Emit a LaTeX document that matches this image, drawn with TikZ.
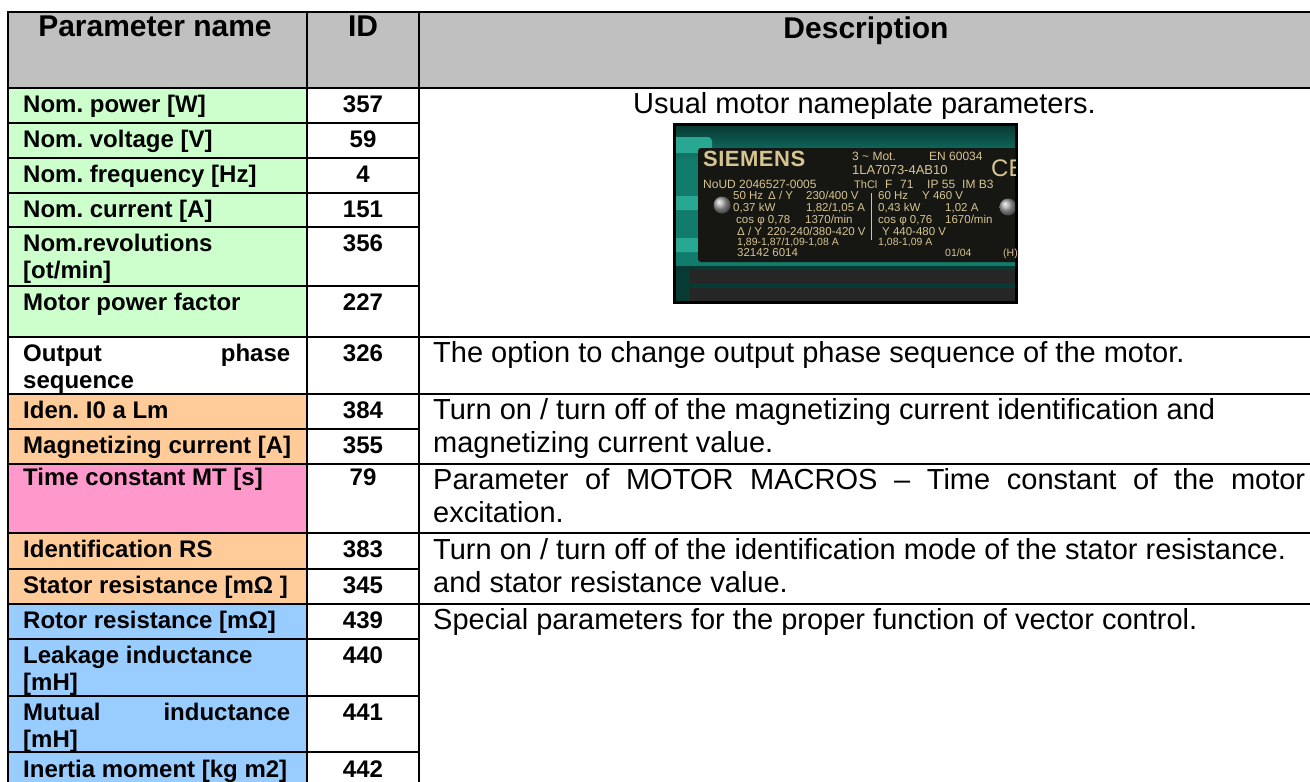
\documentclass[tikz,border=0pt]{standalone}
\usepackage{fontspec}
\setmainfont{Liberation Sans}
\frenchspacing
\definecolor{hdrgray}{HTML}{C0C0C0}
\definecolor{cgreen}{HTML}{CCFFCC}
\definecolor{corange}{HTML}{FFCC99}
\definecolor{cpink}{HTML}{FF99CC}
\definecolor{cblue}{HTML}{99CCFF}
\definecolor{teal1}{RGB}{18,124,108}
\definecolor{tealdk}{RGB}{8,58,52}
\definecolor{teallt}{RGB}{40,168,146}
\definecolor{plate}{RGB}{22,22,18}
\definecolor{gold}{RGB}{214,196,146}
\tikzset{
  gridline/.style={line width=2.2pt},
  lcell/.style={anchor=base west, inner sep=0pt, font=\fontsize{24}{27}\selectfont\bfseries},
  idcell/.style={anchor=base, inner sep=0pt, font=\fontsize{24}{27}\selectfont\bfseries},
  hcell/.style={anchor=base, inner sep=0pt, font=\fontsize{30}{33}\selectfont\bfseries},
  dcell/.style={anchor=base west, inner sep=0pt, font=\fontsize{29}{33}\selectfont},
  ptxt/.style={anchor=base west, inner sep=0pt, text=gold, font=\fontsize{11.5}{12}\selectfont},
}
\begin{document}
\begin{tikzpicture}[x=1pt,y=-1pt]
\useasboundingbox (0,0) rectangle (1310,782);
\clip (0,0) rectangle (1310,782);
% fills
\fill[hdrgray] (8,12) rectangle (1320,88);
\fill[cgreen] (8,88) rectangle (307,337);
\fill[white] (8,337) rectangle (307,394);
\fill[corange] (8,394) rectangle (307,464);
\fill[cpink] (8,464) rectangle (307,533);
\fill[corange] (8,533) rectangle (307,604);
\fill[cblue] (8,604) rectangle (307,790);
% grid
\draw[gridline] (8,12) -- (1320,12);
\draw[gridline] (8,88) -- (1320,88);
\draw[gridline] (8,11) -- (8,790);
\draw[gridline] (307,11) -- (307,790);
\draw[gridline] (419,11) -- (419,790);
\foreach \yy in {123,158,193,227,286,337,394,429,464,533,569,604,639,696,752}
  \draw[gridline] (8,\yy) -- (419,\yy);
\foreach \yy in {337,394,464,533,604}
  \draw[gridline] (419,\yy) -- (1320,\yy);
% header
\node[hcell] (h1) at (155,36) {Parameter name};
\node[hcell] (h2) at (363,36) {ID};
\node[hcell] (h3) at (866,38) {Description};
% left column
\node[lcell] (n1) at (23,112) {Nom. power [W]};
\node[lcell] (n2) at (23,147) {Nom. voltage [V]};
\node[lcell] (n3) at (23,182) {Nom. frequency [Hz]};
\node[lcell] (n4) at (23,217) {Nom. current [A]};
\node[lcell] (n5a) at (23,251) {Nom.revolutions};
\node[lcell] (n5b) at (23,278) {[ot/min]};
\node[lcell] (n6) at (23,310) {Motor power factor};
\node[lcell] (n7a) at (23,361) {\makebox[267pt][s]{Output phase}};
\node[lcell] (n7b) at (23,388) {sequence};
\node[lcell] (n8) at (23,418) {Iden. I0 a Lm};
\node[lcell] (n9) at (23,453) {Magnetizing current [A]};
\node[lcell] (n10) at (23,485) {Time constant MT [s]};
\node[lcell] (n11) at (23,557) {Identification RS};
\node[lcell] (n12) at (23,593) {Stator resistance [mΩ ]};
\node[lcell] (n13) at (23,628) {Rotor resistance [mΩ]};
\node[lcell] (n14a) at (23,663) {Leakage inductance};
\node[lcell] (n14b) at (23,690) {[mH]};
\node[lcell] (n15a) at (23,720) {\makebox[267pt][s]{Mutual inductance}};
\node[lcell] (n15b) at (23,747) {[mH]};
\node[lcell] (n16) at (23,777) {Inertia moment [kg m2]};
% ID column
\node[idcell] (i1) at (363,112) {357};
\node[idcell] (i2) at (363,147) {59};
\node[idcell] (i3) at (363,182) {4};
\node[idcell] (i4) at (363,217) {151};
\node[idcell] (i5) at (363,251) {356};
\node[idcell] (i6) at (363,310) {227};
\node[idcell] (i7) at (363,361) {326};
\node[idcell] (i8) at (363,418) {384};
\node[idcell] (i9) at (363,453) {355};
\node[idcell] (i10) at (363,485) {79};
\node[idcell] (i11) at (363,557) {383};
\node[idcell] (i12) at (363,593) {345};
\node[idcell] (i13) at (363,628) {439};
\node[idcell] (i14) at (363,663) {440};
\node[idcell] (i15) at (363,720) {441};
\node[idcell] (i16) at (363,777) {442};
% description column
\node[dcell, anchor=base] (d0) at (864.5,113) {Usual motor nameplate parameters.};
\node[dcell] (d1) at (433,362) {The option to change output phase sequence of the motor.};
\node[dcell] (d2a) at (433,419) {Turn on / turn off of the magnetizing current identification and};
\node[dcell] (d2b) at (433,452) {magnetizing current value.};
\node[dcell] (d3a) at (433,489) {\makebox[872pt][s]{Parameter of MOTOR MACROS – Time constant of the motor}};
\node[dcell] (d3b) at (433,522) {excitation.};
\node[dcell] (d4a) at (433,559) {Turn on / turn off of the identification mode of the stator resistance.};
\node[dcell] (d4b) at (433,592) {and stator resistance value.};
\node[dcell] (d5) at (433,629) {Special parameters for the proper function of vector control.};
% nameplate photo
\fill[black] (673,123) rectangle (1018,304);
\begin{scope}
\clip (676,126) rectangle (1015,301);
\shade[top color=tealdk, bottom color=teal1] (676,126) rectangle (1015,160);
\fill[teal1] (676,160) rectangle (1015,301);
\fill[teallt, rounded corners=4pt] (670,137) rectangle (712,153);
\fill[teallt, rounded corners=4pt] (670,196) rectangle (712,210);
\fill[teallt, rounded corners=4pt] (670,238) rectangle (712,252);
\fill[plate, rounded corners=3pt] (698,148) rectangle (1030,262);
\fill[tealdk] (676,266) rectangle (1015,301);
\fill[black!85] (690,270) rectangle (1015,283);
\fill[black!85] (690,288) rectangle (1015,301);
\shade[ball color=gray!70] (722,205) circle (8.5);
\shade[ball color=gray!70] (1008,207) circle (8.5);
\node[anchor=base west, inner sep=0pt, text=gold, font=\fontsize{24}{24}\selectfont] (pce) at (991,176) {CE};
\end{scope}
\node[ptxt, font=\fontsize{22}{22}\selectfont\bfseries] (p1) at (703,166) {S\kern0.5pt I\kern0.5pt E\kern0.5pt M\kern0.5pt E\kern0.5pt N\kern0.5pt S};
\node[ptxt, font=\fontsize{12}{12}\selectfont] (p2) at (852,160) {3 \textasciitilde{} Mot.};
\node[ptxt, font=\fontsize{12}{12}\selectfont] (p3) at (929,160) {EN 60034};
\node[ptxt, font=\fontsize{13}{13}\selectfont] (p4) at (852,174) {1LA7073-4AB10};
\node[ptxt, font=\fontsize{12}{12}\selectfont] (p5) at (703,188) {NoUD 2046527-0005};
\node[ptxt, font=\fontsize{11}{12}\selectfont] (p6) at (854,188) {ThCl};
\node[ptxt, font=\fontsize{12}{12}\selectfont] (p7) at (885,188) {F};
\node[ptxt, font=\fontsize{12}{12}\selectfont] (p8) at (900,188) {71};
\node[ptxt, font=\fontsize{12}{12}\selectfont] (p9) at (927,188) {IP 55};
\node[ptxt, font=\fontsize{12}{12}\selectfont] (p10) at (962,188) {IM B3};
\node[ptxt] (p11) at (733,199) {50 Hz};
\node[ptxt] (p12) at (768,199) {Δ / Y};
\node[ptxt] (p13) at (806,199) {230/400 V};
\node[ptxt] (p14) at (733,211) {0,37 kW};
\node[ptxt] (p15) at (806,211) {1,82/1,05 A};
\node[ptxt] (p16) at (736,223) {cos φ 0,78};
\node[ptxt] (p17) at (805,223) {1370/min};
\node[ptxt] (p18) at (737,235) {Δ / Y};
\node[ptxt] (p19) at (767,235) {220-240/380-420 V};
\node[ptxt, font=\fontsize{10.5}{10}\selectfont] (p20) at (737,245) {1,89-1,87/1,09-1,08 A};
\node[ptxt] (p21) at (737,256) {32142 6014};
\draw[gold, line width=0.8pt] (871,193) -- (871,240);
\node[ptxt] (p22) at (878,199) {60 Hz};
\node[ptxt] (p23) at (922,199) {Y 460 V};
\node[ptxt] (p24) at (878,211) {0,43 kW};
\node[ptxt] (p25) at (945,211) {1,02 A};
\node[ptxt] (p26) at (878,223) {cos φ 0,76};
\node[ptxt] (p27) at (945,223) {1670/min};
\node[ptxt] (p28) at (882,235) {Y 440-480 V};
\node[ptxt, font=\fontsize{10.5}{10}\selectfont] (p29) at (878,245) {1,08-1,09 A};
\node[ptxt, font=\fontsize{10.5}{10}\selectfont] (p30) at (945,256) {01/04};
\node[ptxt, font=\fontsize{10.5}{10}\selectfont] (p31) at (1003,256) {(H)};
\end{tikzpicture}
\end{document}
